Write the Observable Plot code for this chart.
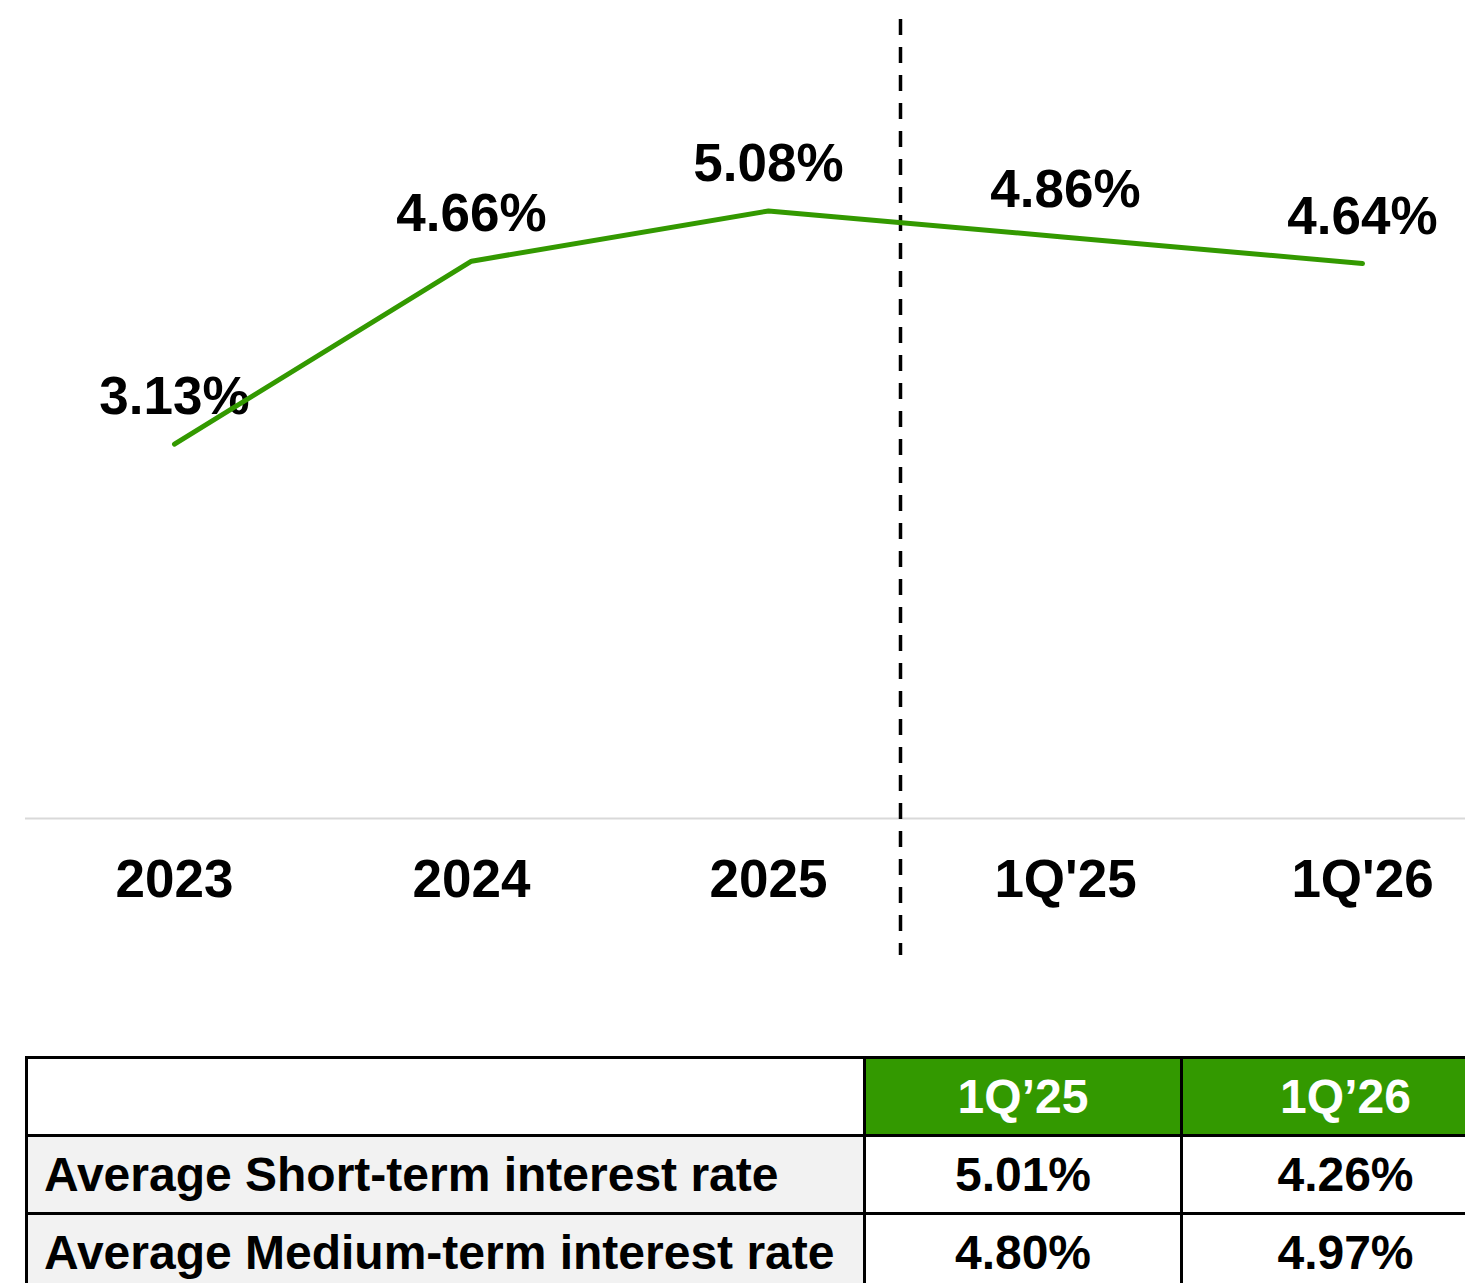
<!DOCTYPE html>
<html><head><meta charset="utf-8">
<script src="https://cdn.jsdelivr.net/npm/d3@7"></script>
<script src="https://cdn.jsdelivr.net/npm/@observablehq/plot@0.6"></script>
<style>
html,body{margin:0;padding:0;background:#fff;overflow:hidden;}
#wrap{width:1465px;height:1283px;overflow:hidden;position:relative;font-family:"Liberation Sans",Arial,sans-serif;}
#chart{position:absolute;left:0;top:0;}
table{position:absolute;left:25px;top:1056px;border-collapse:collapse;table-layout:fixed;width:1483px;}
td{border:3px solid #000;height:75px;padding:0;font-weight:bold;font-size:48px;line-height:1;color:#000;text-align:center;vertical-align:middle;}
td.lab{background:#f2f2f2;text-align:left;padding-left:16px;}
td.hd{background:#339900;color:#fff;}
</style></head>
<body><div id="wrap"><div id="chart"></div><table id="tbl"></table></div>
<script>
const periods = ["2023", "2024", "2025", "1Q'25", "1Q'26"];
const rates = [3.13, 4.66, 5.08, 4.86, 4.64];
const dividerAfter = "2025";

const tableCols = ["1Q\u201925", "1Q\u201926"];
const tableRows = ["Average Short-term interest rate", "Average Medium-term interest rate"];
const shortRates = [5.01, 4.26];
const mediumRates = [4.80, 4.97];

const data = periods.map((p, i) => ({period: p, rate: rates[i]}));
const green = "#339900";
const font = "'Liberation Sans', Arial, sans-serif";

const chart = Plot.plot({
  width: 1465, height: 960,
  marginTop: 18, marginBottom: 5, marginLeft: 25, marginRight: 0,
  x: {type: "point", domain: periods, range: [173, 1362], padding: 0, axis: null},
  y: {domain: [0, 6], range: [818, 100.4], axis: null},
  style: {fontFamily: font, background: "white", overflow: "visible"},
  marks: [
    Plot.ruleY([0], {stroke: "#d9d9d9", strokeWidth: 2}),
    Plot.ruleX([dividerAfter], {dx: 132, stroke: "#000", strokeWidth: 3.5, strokeDasharray: "16,12", strokeDashoffset: -1}),
    Plot.text(data, {x: "period", y: "rate", text: d => d.rate.toFixed(2) + "%", dy: -47,
      fontSize: 53, fontWeight: "bold", fill: "#000"}),
    Plot.line(data, {x: "period", y: "rate", stroke: green, strokeWidth: 5, strokeLinecap: "round", strokeLinejoin: "round"}),
    Plot.text(periods, {x: d => d, y: () => 0, dy: 62, fontSize: 53, fontWeight: "bold", fill: "#000"})
  ]
});
document.getElementById("chart").appendChild(chart);

const tbl = document.getElementById("tbl");
const cg = document.createElement("colgroup");
[838, 317, 328].forEach(w => { const c = document.createElement("col"); c.style.width = w + "px"; cg.appendChild(c); });
tbl.appendChild(cg);
const hr = document.createElement("tr");
const e0 = document.createElement("td"); e0.style.background = "#fff"; hr.appendChild(e0);
tableCols.forEach(c => { const td = document.createElement("td"); td.className = "hd"; td.textContent = c; hr.appendChild(td); });
tbl.appendChild(hr);
[shortRates, mediumRates].forEach((vals, r) => {
  const tr = document.createElement("tr");
  const l = document.createElement("td"); l.className = "lab"; l.textContent = tableRows[r]; tr.appendChild(l);
  vals.forEach(v => { const td = document.createElement("td"); td.textContent = v.toFixed(2) + "%"; tr.appendChild(td); });
  tbl.appendChild(tr);
});
</script></body></html>
